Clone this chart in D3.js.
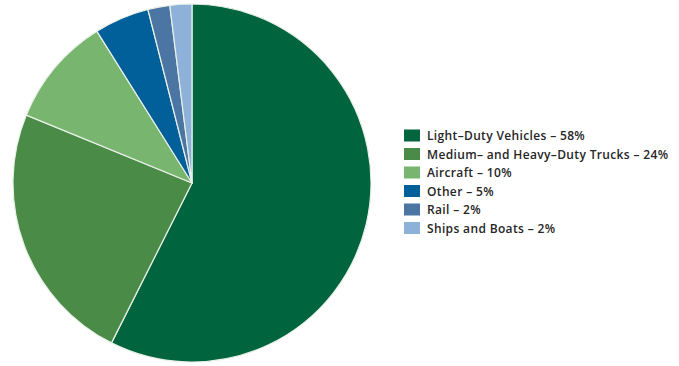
<!DOCTYPE html>
<html>
<head>
<meta charset="utf-8">
<script src="https://cdn.jsdelivr.net/npm/d3@7"></script>
<style>
  html, body { margin: 0; padding: 0; background: #fff; }
  svg { display: block; }
</style>
</head>
<body>
<svg id="chart" width="679" height="366"></svg>
<script>
// Transportation energy use by mode (share, %)
const categories = [
  "Light-Duty Vehicles",
  "Medium- and Heavy-Duty Trucks",
  "Aircraft",
  "Other",
  "Rail",
  "Ships and Boats"
];
const legendLabels = [
  "Light–Duty Vehicles – 58%",
  "Medium– and Heavy–Duty Trucks – 24%",
  "Aircraft – 10%",
  "Other – 5%",
  "Rail – 2%",
  "Ships and Boats – 2%"
];
const shares = [58, 24, 10, 5, 2, 2];
const colors = ["#00653e", "#4a8b48", "#78b56e", "#015f9a", "#4b76a3", "#8db1d8"];

const svg = d3.select("#chart");
const cx = 192, cy = 183, radius = 179;

const data = categories.map((c, i) => ({ name: c, value: shares[i] }));

const pie = d3.pie().value(d => d.value).sort(null);
const arc = d3.arc().innerRadius(0).outerRadius(radius);
const color = d3.scaleOrdinal().domain(categories).range(colors);

const g = svg.append("g").attr("transform", `translate(${cx},${cy})`);
g.selectAll("path")
  .data(pie(data))
  .join("path")
  .attr("d", arc)
  .attr("fill", d => color(d.data.name))
  .attr("stroke", "#e8f0e8")
  .attr("stroke-width", 1.2)
  .attr("stroke-linejoin", "round");

// Legend
const legendX = 404, legendY0 = 135.5, rowH = 18.5;
const legend = svg.append("g");
const rows = legend.selectAll("g")
  .data(categories)
  .join("g")
  .attr("transform", (d, i) => `translate(${legendX},${legendY0 + i * rowH})`);
rows.append("rect")
  .attr("x", 0).attr("y", -6)
  .attr("width", 16).attr("height", 12)
  .attr("fill", d => color(d));
rows.append("text")
  .attr("x", 23).attr("y", 4.5)
  .attr("font-family", "'Open Sans', sans-serif")
  .attr("font-weight", 600)
  .attr("font-size", 12)
  .attr("letter-spacing", 0.35)
  .attr("fill", "#262626")
  .text((d, i) => legendLabels[i]);
</script>
</body>
</html>
